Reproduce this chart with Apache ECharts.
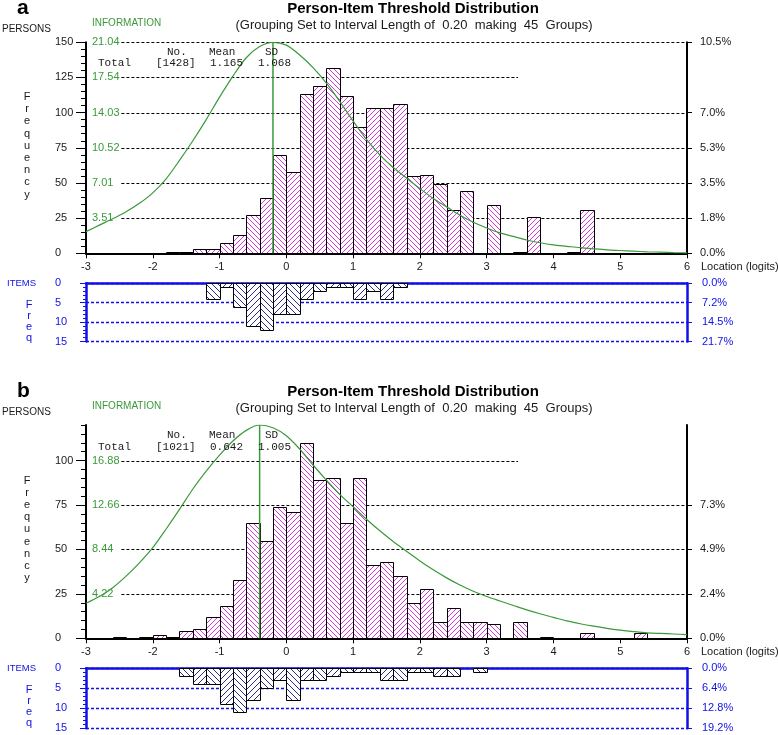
<!DOCTYPE html>
<html><head><meta charset="utf-8">
<script src="https://cdn.jsdelivr.net/npm/echarts@6/dist/echarts.min.js"></script>
<style>html,body{margin:0;padding:0;background:#fff}#c{width:778px;height:735px}</style>
</head><body><div id="c"></div>
<script>
// ---------------- data ----------------
const xTicks = [-3,-2,-1,0,1,2,3,4,5,6];
const binWidth = 0.2;

// Panel a : persons
const personBinsA   = [-1.8,-1.6,-1.4,-1.2,-1.0,-0.8,-0.6,-0.4,-0.2,0.0,0.2,0.4,0.6,0.8,1.0,1.2,1.4,1.6,1.8,2.0,2.2,2.4,2.6,3.0,3.4,3.6,4.2,4.4];
const personCountsA = [1,1,3,3,7,13,27,39,70,58,113,119,132,112,90,103,103,106,55,56,49,31,44,34,1,26,1,31];
// Panel a : items
const itemBinsA   = [-1.2,-1.0,-0.8,-0.6,-0.4,-0.2,0.0,0.2,0.4,0.6,0.8,1.0,1.2,1.4,1.6];
const itemCountsA = [4,1,6,11,12,8,8,4,2,1,1,4,2,4,1];
// Information curves (location, information)
const infoX = [-3.0,-2.8,-2.6,-2.4,-2.2,-2.0,-1.8,-1.6,-1.4,-1.2,-1.0,-0.8,-0.6,-0.4,-0.2,0.0,0.2,0.4,0.6,0.8,1.0,1.2,1.4,1.6,1.8,2.0,2.2,2.4,2.6,2.8,3.0,3.2,3.4,3.6,3.8,4.0,4.2,4.4,4.6,4.8,5.0,5.2,5.4,5.6,5.8,6.0];
const infoA = [2.16,2.81,3.44,4.14,4.98,6.03,7.43,9.26,11.22,13.33,15.57,17.67,19.50,20.62,21.04,20.76,19.78,18.52,16.97,15.15,13.19,11.36,9.82,8.56,7.50,6.45,5.47,4.63,3.79,3.09,2.52,2.03,1.68,1.33,1.05,0.84,0.70,0.56,0.45,0.35,0.28,0.21,0.15,0.11,0.07,0.04];
const infoPeakA = -0.2;
const statsA = ['[1428]','1.165','1.068'];
const countTicksA = [0,25,50,75,100,125,150];
const infoTickValsA = [25,50,75,100,125,150];
const infoLabelsA = ['3.51','7.01','10.52','14.03','17.54','21.04'];
const pctTickValsA = [0,25,50,75,100,150];
const pctLabelsA = ['0.0%','1.8%','3.5%','5.3%','7.0%','10.5%'];
const itemPctA = ['0.0%','7.2%','14.5%','21.7%'];

// Panel b : persons
const personBinsB   = [-2.6,-2.2,-2.0,-1.8,-1.6,-1.4,-1.2,-1.0,-0.8,-0.6,-0.4,-0.2,0.0,0.2,0.4,0.6,0.8,1.0,1.2,1.4,1.6,1.8,2.0,2.2,2.4,2.6,2.8,3.0,3.4,3.8,4.4,5.2];
const personCountsB = [1,1,2,1,4,5,12,18,33,65,55,74,71,110,89,90,65,90,41,43,35,20,28,9,17,9,9,8,9,1,3,3];
// Panel b : items
const itemBinsB   = [-1.6,-1.4,-1.2,-1.0,-0.8,-0.6,-0.4,-0.2,0.0,0.2,0.4,0.6,0.8,1.0,1.2,1.4,1.6,1.8,2.0,2.2,2.4,2.8];
const itemCountsB = [2,4,4,9,11,8,5,3,8,3,3,2,1,1,1,3,3,1,1,2,2,1];
const infoB = [3.33,3.97,4.81,5.91,7.17,8.61,10.38,12.24,14.18,15.87,17.39,18.74,19.75,20.26,20.00,19.24,17.98,16.46,15.02,13.67,12.49,11.31,10.21,9.20,8.27,7.34,6.50,5.74,5.06,4.47,3.97,3.54,3.12,2.70,2.33,1.99,1.65,1.38,1.15,0.95,0.78,0.64,0.52,0.46,0.41,0.35];
const infoPeakB = -0.4;
const statsB = ['[1021]','0.642','1.005'];
const countTicksB = [0,25,50,75,100];
const infoTickValsB = [25,50,75,100];
const infoLabelsB = ['4.22','8.44','12.66','16.88'];
const pctTickValsB = [0,25,50,75];
const pctLabelsB = ['0.0%','2.4%','4.9%','7.3%'];
const itemPctB = ['0.0%','6.4%','12.8%','19.2%'];

const itemTicks = [0,5,10,15];

// ---------------- styling / layout ----------------
const FONT = '"Liberation Sans", Arial, sans-serif';
const MONO = '"Liberation Mono", "DejaVu Sans Mono", monospace';
const TXT = '#1a1a1a', GREEN = '#3a993a', BLUE = '#1010e8', MAG = '#d63ad6', NAVY = '#2c2c80';
const X_MIN = -3, X_MAX = 6;
const GRID_START_X = -2.47, SHORT_END_X = 3.47;

function makeHatch(color, size, dir) {
  const c = document.createElement('canvas'); c.width = size; c.height = size;
  const g = c.getContext('2d');
  g.fillStyle = '#fff'; g.fillRect(0, 0, size, size);
  g.fillStyle = color;
  for (let i = 0; i < size; i++) g.fillRect(dir > 0 ? i : size - 1 - i, i, 1, 1);
  return c;
}
const hatchP = [makeHatch(MAG, 5, 1), makeHatch(MAG, 5, -1)];
const hatchI = [makeHatch(NAVY, 6, -1), makeHatch(NAVY, 6, 1)];

const grids = [], xAxes = [], yAxes = [], series = [], graphics = [];

function lookup(vals, labels) {
  return v => { const i = vals.findIndex(t => Math.abs(t - v) < 1e-6); return i < 0 ? '' : labels[i]; };
}

function barSeries(xi, yi, bins, counts, pats) {
  return {
    type: 'custom', xAxisIndex: xi, yAxisIndex: yi, z: 3, silent: true, animation: false,
    data: bins.map((b, i) => [b, counts[i]]),
    renderItem(params, api) {
      const x0 = api.value(0), c = api.value(1);
      if (!c) return null;
      const a = api.coord([x0, c]), b = api.coord([x0 + binWidth, 0]);
      const l = Math.round(Math.min(a[0], b[0])) + 0.5, r = Math.round(Math.max(a[0], b[0])) + 0.5;
      const t = Math.round(Math.min(a[1], b[1])) + 0.5, bt = Math.round(Math.max(a[1], b[1])) + 0.5;
      const pat = pats[Math.round((x0 - X_MIN) / binWidth) % 2];
      return { type: 'rect', shape: { x: l, y: t, width: r - l, height: bt - t },
        style: { fill: { image: pat, repeat: 'repeat' }, stroke: '#000', lineWidth: 1 } };
    }
  };
}

function gridLineSeries(xi, yi, levels, shortLevel) {
  return {
    type: 'custom', xAxisIndex: xi, yAxisIndex: yi, z: 1, silent: true, animation: false,
    data: levels.filter(l => l > 0).map(l => [GRID_START_X, l, l === shortLevel ? SHORT_END_X : X_MAX]),
    renderItem(params, api) {
      const p0 = api.coord([api.value(0), api.value(1)]), p1 = api.coord([api.value(2), api.value(1)]);
      const y = Math.round(p0[1]) + 0.5;
      return { type: 'line', shape: { x1: p0[0], y1: y, x2: p1[0], y2: y },
        style: { stroke: '#000', lineWidth: 1, lineDash: [3, 2] } };
    }
  };
}

function text(x, y, str, font, fill, align) {
  graphics.push({ type: 'text', x, y, z: 50, silent: true,
    style: { text: str, font, fill, align: align || 'left', verticalAlign: 'middle' } });
}

function personPanel(top, height, maxCount, counts, bins, info, infoPeak, countTicks, infoVals, infoLabels, pctVals, pctLabels, shortLevel) {
  const g = grids.length;
  grids.push({ left: 86, top, width: 601, height });
  const xi = xAxes.length;
  xAxes.push({ type: 'value', gridIndex: g, min: X_MIN, max: X_MAX, interval: 1, position: 'bottom',
    axisLine: { onZero: false, lineStyle: { color: '#000', width: 2 } },
    axisTick: { length: 5, lineStyle: { color: '#000', width: 1 } },
    axisLabel: { color: TXT, fontSize: 11, fontFamily: FONT, margin: 8,
      formatter: v => xTicks.includes(v) ? String(v) : '' },
    splitLine: { show: false } });
  const yMajor = yAxes.length;
  yAxes.push({ type: 'value', gridIndex: g, position: 'left', min: 0, max: maxCount, interval: 25,
    axisLine: { show: true, onZero: false, lineStyle: { color: '#000', width: 2 } },
    axisTick: { show: true, length: 10, customValues: countTicks, lineStyle: { color: '#000', width: 1 } },
    axisLabel: { show: true, customValues: countTicks, color: TXT, fontSize: 11, fontFamily: FONT, align: 'left', margin: 31 },
    splitLine: { show: false } });
  yAxes.push({ type: 'value', gridIndex: g, position: 'left', min: 0, max: maxCount, interval: 5,
    axisLine: { show: false, onZero: false }, axisTick: { show: true, length: 5, lineStyle: { color: '#000', width: 1 } },
    axisLabel: { show: false }, splitLine: { show: false } });
  yAxes.push({ type: 'value', gridIndex: g, position: 'left', min: 0, max: maxCount, interval: 25,
    axisLine: { show: false, onZero: false }, axisTick: { show: false },
    axisLabel: { show: true, inside: true, margin: 6, customValues: infoVals, color: GREEN, fontSize: 11, fontFamily: FONT,
      formatter: lookup(infoVals, infoLabels) },
    splitLine: { show: false } });
  yAxes.push({ type: 'value', gridIndex: g, position: 'right', min: 0, max: maxCount, interval: 25,
    axisLine: { show: true, onZero: false, lineStyle: { color: '#000', width: 2 } },
    axisTick: { show: true, length: 5, customValues: pctVals, lineStyle: { color: '#000', width: 1 } },
    axisLabel: { show: true, customValues: pctVals, color: TXT, fontSize: 11, fontFamily: FONT, margin: 13,
      formatter: lookup(pctVals, pctLabels) },
    splitLine: { show: false } });
  const yInfo = yAxes.length;
  yAxes.push({ type: 'value', gridIndex: g, position: 'left', min: 0, max: Math.max(...info), show: false,
    axisLine: { onZero: false } });

  series.push(gridLineSeries(xi, yMajor, countTicks.concat(infoVals.filter(v => !countTicks.includes(v))), shortLevel));
  series.push(barSeries(xi, yMajor, bins, counts, hatchP));
  series.push({ type: 'line', xAxisIndex: xi, yAxisIndex: yInfo, z: 5, silent: true, animation: false,
    data: infoX.map((x, i) => [x, info[i]]), smooth: 0.3, symbol: 'none',
    lineStyle: { color: GREEN, width: 1.2 } });
  series.push({ type: 'line', xAxisIndex: xi, yAxisIndex: yMajor, z: 5, silent: true, animation: false,
    data: [[infoPeak, 0], [infoPeak, maxCount]], symbol: 'none',
    lineStyle: { color: GREEN, width: 1.5 } });
}

function itemPanel(top, height, bins, counts, pctLabels) {
  const g = grids.length;
  grids.push({ left: 86, top, width: 601, height });
  const xi = xAxes.length;
  xAxes.push({ type: 'value', gridIndex: g, min: X_MIN, max: X_MAX, interval: 1, position: 'top',
    axisLine: { onZero: false, lineStyle: { color: BLUE, width: 2.5 } },
    axisTick: { show: false }, axisLabel: { show: false }, splitLine: { show: false } });
  const yl = yAxes.length;
  yAxes.push({ type: 'value', gridIndex: g, position: 'left', inverse: true, min: 0, max: 15, interval: 5,
    axisLine: { show: true, onZero: false, lineStyle: { color: BLUE, width: 2.5 } },
    axisTick: { show: true, length: 6, lineStyle: { color: BLUE, width: 1 } },
    minorTick: { show: true, splitNumber: 5, length: 3, lineStyle: { color: BLUE, width: 1 } },
    axisLabel: { color: BLUE, fontSize: 11, fontFamily: FONT, align: 'left', margin: 31 },
    splitLine: { show: true, lineStyle: { color: BLUE, width: 1.3, type: [3, 2] } } });
  yAxes.push({ type: 'value', gridIndex: g, position: 'right', inverse: true, min: 0, max: 15, interval: 5,
    axisLine: { show: true, onZero: false, lineStyle: { color: BLUE, width: 2.5 } },
    axisTick: { show: true, length: 5, lineStyle: { color: BLUE, width: 1 } },
    axisLabel: { color: BLUE, fontSize: 11, fontFamily: FONT, margin: 15, formatter: lookup(itemTicks, pctLabels) },
    splitLine: { show: false } });
  series.push(barSeries(xi, yl, bins, counts, hatchI));
}

function panelTexts(dy, letter, stats, locY, itemTop) {
  text(17, 8 + dy, letter, 'bold 21px ' + FONT, '#000');
  text(413, 8.5 + dy, 'Person-Item Threshold Distribution', 'bold 15px ' + FONT, '#000', 'center');
  text(414, 25 + dy, '(Grouping Set to Interval Length of  0.20  making  45  Groups)', '13px ' + FONT, TXT, 'center');
  text(2, 29 + dy, 'PERSONS', '10px ' + FONT, TXT);
  text(92, 23 + dy, 'INFORMATION', '10px ' + FONT, GREEN);
  text(167, 52 + dy, 'No.', '11px ' + MONO, TXT);
  text(209, 52 + dy, 'Mean', '11px ' + MONO, TXT);
  text(265, 52 + dy, 'SD', '11px ' + MONO, TXT);
  text(98, 63.5 + dy, 'Total', '11px ' + MONO, TXT);
  text(156, 63.5 + dy, stats[0], '11px ' + MONO, TXT);
  text(210, 63.5 + dy, stats[1], '11px ' + MONO, TXT);
  text(258, 63.5 + dy, stats[2], '11px ' + MONO, TXT);
  'Frequency'.split('').forEach((ch, i) => text(27, 97 + dy + i * 12.2, ch, '11px ' + FONT, TXT, 'center'));
  text(701, locY, 'Location (logits)', '11px ' + FONT, TXT);
  text(7, itemTop, 'ITEMS', '9.5px ' + FONT, BLUE);
  'Freq'.split('').forEach((ch, i) => text(29, itemTop + 21 + i * 11, ch, '11px ' + FONT, BLUE, 'center'));
}

personPanel(42.3, 211, 150, personCountsA, personBinsA, infoA, infoPeakA, countTicksA, infoTickValsA, infoLabelsA, pctTickValsA, pctLabelsA, 125);
itemPanel(283.3, 58.2, itemBinsA, itemCountsA, itemPctA);
personPanel(425, 213.3, 120, personCountsB, personBinsB, infoB, infoPeakB, countTicksB, infoTickValsB, infoLabelsB, pctTickValsB, pctLabelsB, 100);
itemPanel(668.3, 60, itemBinsB, itemCountsB, itemPctB);

panelTexts(0, 'a', statsA, 267, 283.5);
panelTexts(383.5, 'b', statsB, 652, 668.5);

const chart = echarts.init(document.getElementById('c'), null, { renderer: 'canvas' });
chart.setOption({
  animation: false, backgroundColor: '#fff',
  grid: grids, xAxis: xAxes, yAxis: yAxes, series, graphic: graphics
});
</script></body></html>
